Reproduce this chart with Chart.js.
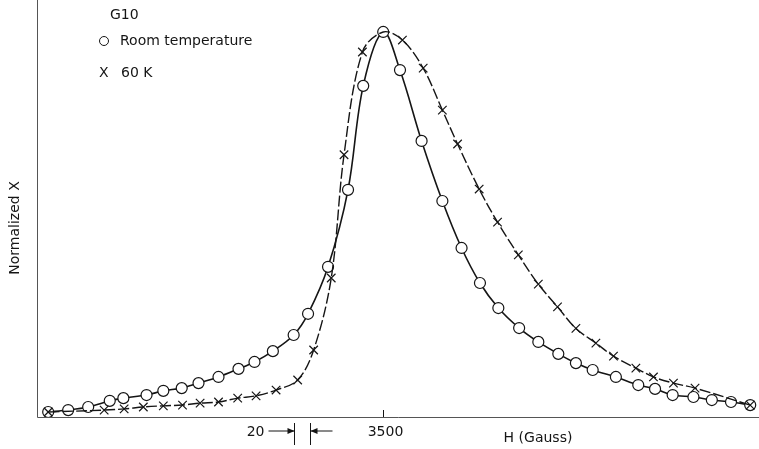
<!DOCTYPE html>
<html>
<head>
<meta charset="utf-8">
<script src="https://cdn.jsdelivr.net/npm/chart.js@4"></script>
<style>
  html, body { margin: 0; padding: 0; background: #fff; }
  #wrap { width: 759px; height: 449px; }
</style>
</head>
<body>
<div id="wrap"><canvas id="chart" width="759" height="449"></canvas></div>
<script>
// Room temperature (circles)
const roomH = [3081, 3106, 3131, 3158, 3175, 3204, 3225, 3248, 3269, 3294, 3319, 3339, 3362, 3388, 3406,
  3431, 3456, 3475, 3500, 3521, 3548, 3574, 3598, 3621, 3644, 3670, 3694, 3719, 3741, 3762, 3791,
  3819, 3840, 3862, 3888, 3911, 3935, 3959];
const roomX = [0.013, 0.018, 0.026, 0.042, 0.049, 0.057, 0.068, 0.075, 0.088, 0.104, 0.125, 0.143, 0.171, 0.213, 0.268,
  0.390, 0.590, 0.860, 1.000, 0.901, 0.717, 0.561, 0.439, 0.348, 0.283, 0.231, 0.195, 0.164, 0.140, 0.122, 0.104,
  0.083, 0.073, 0.057, 0.052, 0.044, 0.039, 0.031];

// 60 K (crosses)
const coldH = [3081, 3151, 3176, 3200, 3225, 3249, 3271, 3294, 3318, 3341, 3366, 3393, 3413, 3435, 3451, 3474, 3500,
  3524, 3550, 3574, 3593, 3620, 3643, 3669, 3694, 3718, 3741, 3766, 3788, 3816, 3838, 3863, 3890, 3959];
const coldX = [0.013, 0.018, 0.021, 0.026, 0.029, 0.031, 0.036, 0.039, 0.049, 0.055, 0.070, 0.096, 0.174, 0.361, 0.681, 0.948, 1.000,
  0.979, 0.906, 0.797, 0.709, 0.592, 0.506, 0.421, 0.345, 0.286, 0.230, 0.192, 0.158, 0.127, 0.104, 0.088, 0.075, 0.031];

// axis marks
const xTickLabels = [3500];
const gapMarks = [3389, 3409];   // the "20" Gauss interval
const gapLabel = '20';

const FONT = '"DejaVu Sans", sans-serif';
const INK = '#151515';

const toPts = (hs, vs) => hs.map((h, i) => ({ x: h, y: vs[i] }));

// Axes, labels and legend drawn with the chart's own scales
const decor = {
  id: 'decor',
  beforeDatasetsDraw(chart) {
    const { ctx, chartArea: a } = chart;
    ctx.save();
    ctx.strokeStyle = '#555';
    ctx.lineWidth = 1;
    ctx.beginPath();
    ctx.moveTo(a.left + 0.5, a.top);
    ctx.lineTo(a.left + 0.5, a.bottom + 0.5);
    ctx.lineTo(a.right, a.bottom + 0.5);
    ctx.stroke();
    ctx.restore();
  },
  afterDraw(chart) {
    const { ctx, chartArea: a, scales: { x } } = chart;
    ctx.save();
    ctx.fillStyle = INK;
    ctx.strokeStyle = INK;
    ctx.lineWidth = 1;
    ctx.font = '14px ' + FONT;
    ctx.textBaseline = 'middle';

    // tick + label
    xTickLabels.forEach(v => {
      const px = Math.round(x.getPixelForValue(v)) + 0.5;
      ctx.beginPath();
      ctx.moveTo(px, a.bottom - 7);
      ctx.lineTo(px, a.bottom);
      ctx.stroke();
      ctx.textAlign = 'center';
      ctx.fillText(String(v), px + 2, a.bottom + 15);
    });

    // 20 G gap marks with arrows
    const g0 = Math.round(x.getPixelForValue(gapMarks[0])) + 0.5;
    const g1 = Math.round(x.getPixelForValue(gapMarks[1])) + 0.5;
    const ay = a.bottom + 14;
    ctx.beginPath();
    ctx.moveTo(g0, a.bottom + 6); ctx.lineTo(g0, a.bottom + 28);
    ctx.moveTo(g1, a.bottom + 6); ctx.lineTo(g1, a.bottom + 28);
    ctx.moveTo(g0 - 26, ay); ctx.lineTo(g0, ay);
    ctx.moveTo(g1, ay); ctx.lineTo(g1 + 22, ay);
    ctx.stroke();
    ctx.beginPath();
    ctx.moveTo(g0, ay); ctx.lineTo(g0 - 7, ay - 3); ctx.lineTo(g0 - 7, ay + 3); ctx.closePath();
    ctx.moveTo(g1, ay); ctx.lineTo(g1 + 7, ay - 3); ctx.lineTo(g1 + 7, ay + 3); ctx.closePath();
    ctx.fill();
    ctx.textAlign = 'right';
    ctx.fillText(gapLabel, g0 - 30, ay + 1);

    // axis titles
    ctx.textAlign = 'center';
    ctx.fillText('H (Gauss)', 538, a.bottom + 21);
    ctx.save();
    ctx.translate(15, 228);
    ctx.rotate(-Math.PI / 2);
    ctx.fillText('Normalized X', 0, 0);
    ctx.restore();

    // legend
    ctx.textAlign = 'left';
    ctx.fillText('G10', 110, 15);
    ctx.beginPath();
    ctx.arc(104, 41, 4.5, 0, Math.PI * 2);
    ctx.stroke();
    ctx.fillText('Room temperature', 120, 41);
    ctx.fillText('X', 99, 73);
    ctx.fillText('60 K', 121, 73);
    ctx.restore();
  }
};

new Chart(document.getElementById('chart'), {
  type: 'scatter',
  data: {
    datasets: [
      {
        label: '60 K',
        data: toPts(coldH, coldX),
        showLine: true,
        borderColor: INK,
        borderWidth: 1.4,
        borderDash: [11, 3],
        tension: 0.35,
        pointStyle: 'crossRot',
        // the peak cross sits under the room-temperature circle in the original
        pointRadius: c => (c.raw && c.raw.y === 1 ? 0 : 6),
        pointBorderWidth: 1.2,
        pointBorderColor: INK,
        pointBackgroundColor: INK
      },
      {
        label: 'Room temperature',
        data: toPts(roomH, roomX),
        showLine: true,
        borderColor: INK,
        borderWidth: 1.6,
        tension: 0.35,
        pointStyle: 'circle',
        pointRadius: 5.5,
        pointBorderWidth: 1.2,
        pointBorderColor: INK,
        pointBackgroundColor: '#fff'
      }
    ]
  },
  options: {
    responsive: false,
    animation: false,
    layout: { autoPadding: false, padding: { left: 37, right: 0, top: 0, bottom: 32 } },
    plugins: { legend: { display: false }, tooltip: { enabled: false } },
    scales: {
      x: { type: 'linear', min: 3067, max: 3970, display: false },
      y: { type: 'linear', min: 0, max: 1.083, display: false }
    }
  },
  plugins: [decor]
});
</script>
</body>
</html>
